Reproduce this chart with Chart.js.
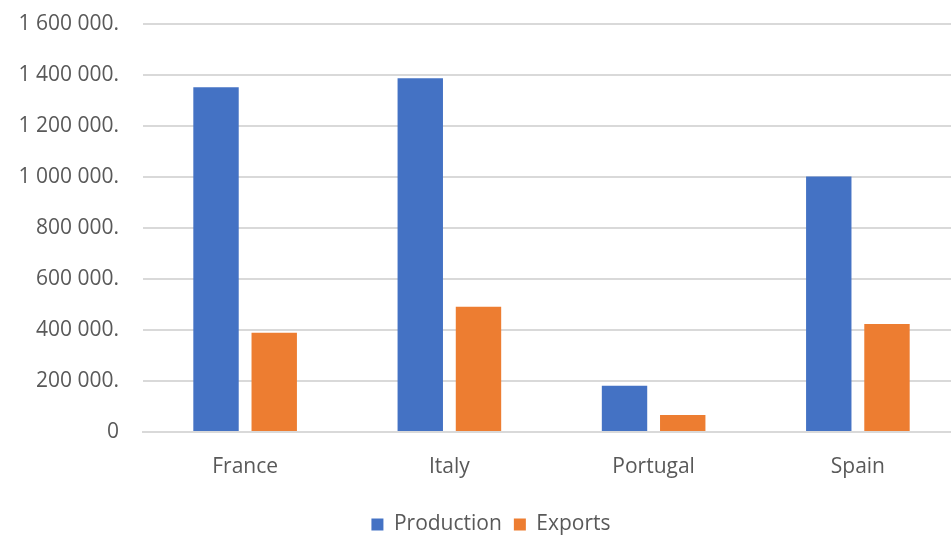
<!DOCTYPE html>
<html>
<head>
<meta charset="utf-8">
<script src="https://cdn.jsdelivr.net/npm/chart.js@4"></script>
<style>
  html, body { margin: 0; padding: 0; background: #fff; overflow: hidden; }
  #wrap { width: 960px; height: 537px; }
</style>
</head>
<body>
<div id="wrap"><canvas id="chartWine"></canvas></div>
<script>
const countries = ['France', 'Italy', 'Portugal', 'Spain'];
const production = [1352000, 1387000, 181000, 1002000];
const exportsVals = [389000, 491000, 67000, 424000];

const textColor = '#595959';
const gridColor = '#d9d9d9';
const fontFam = 'Open Sans';

function fmt(v) {
    if (v === 0) return '0';
    return String(v).replace(/\B(?=(\d{3})+(?!\d))/g, ' ') + '.';
}

// the legend in the original sits a bit right of and below where chart.js puts it
const legendShift = {
    id: 'legendShift',
    afterLayout(chart) {
        chart.legend.left += 11;
        chart.legend.right += 11;
        chart.legend.top += 8;
        chart.legend.bottom += 8;
    }
};

const data = {
    labels: countries,
    datasets: [{
        label: 'Production',
        data: production,
        backgroundColor: '#4472C4',
        categoryPercentage: 0.57,
        barPercentage: 0.78
    }, {
        label: 'Exports',
        data: exportsVals,
        backgroundColor: '#ED7D31',
        categoryPercentage: 0.57,
        barPercentage: 0.78
    }]
};

const config = {
    type: 'bar',
    data: data,
    plugins: [legendShift],
    options: {
        responsive: true,
        maintainAspectRatio: false,
        animation: false,
        layout: { padding: { top: 24, bottom: 0 } },
        plugins: {
            tooltip: { enabled: false },
            legend: {
                position: 'bottom',
                labels: {
                    color: textColor,
                    font: { family: fontFam, size: 21 },
                    boxWidth: 12,
                    boxHeight: 12,
                    padding: 12
                }
            }
        },
        scales: {
            x: {
                grid: { display: false, drawTicks: false },
                border: { display: true, color: gridColor, width: 2 },
                ticks: {
                    color: textColor,
                    font: { family: fontFam, size: 21 },
                    padding: 22
                },
                afterFit(scale) { scale.height = 62; }
            },
            y: {
                min: 0,
                max: 1600000,
                border: { display: false },
                grid: { color: gridColor, lineWidth: 2, drawTicks: false },
                ticks: {
                    stepSize: 200000,
                    color: textColor,
                    font: { family: fontFam, size: 21 },
                    padding: 24,
                    callback: v => fmt(v)
                },
                afterFit(scale) {
                    scale.width = 143;
                    scale.paddingTop = 0;
                    scale.paddingBottom = 0;
                }
            }
        }
    }
};

const myChart = new Chart(document.getElementById('chartWine'), config);
</script>
</body>
</html>
